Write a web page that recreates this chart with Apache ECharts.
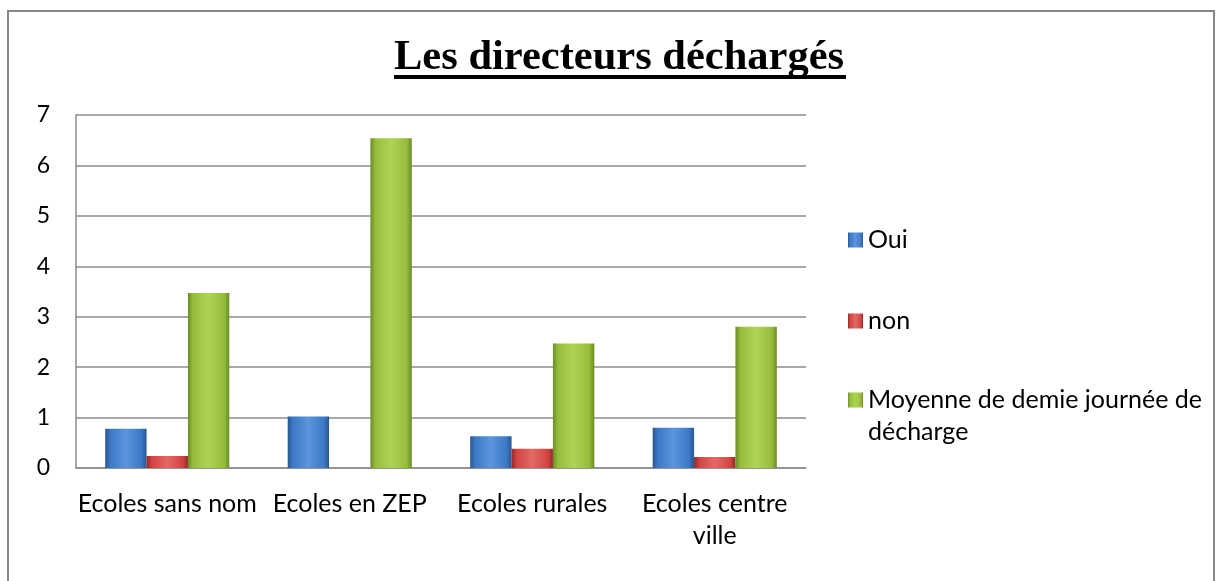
<!DOCTYPE html>
<html>
<head>
<meta charset="utf-8">
<script src="https://cdn.jsdelivr.net/npm/echarts@6/dist/echarts.min.js"></script>
<style>
    html, body { margin: 0; padding: 0; background: #fff; }
    #chart { width: 1221px; height: 581px; }
</style>
</head>
<body>
<div id="chart"></div>
<script>
const categories = ['Ecoles sans nom', 'Ecoles en ZEP', 'Ecoles rurales', 'Ecoles centre ville']
const oui = [0.78, 1.02, 0.63, 0.8]
const non = [0.24, 0, 0.38, 0.22]
const moyenne = [3.47, 6.54, 2.47, 2.8]
const yTicks = [0, 1, 2, 3, 4, 5, 6, 7]

const labelFont = 'Lato'

// excel-ish bevel: dark edges, lighter middle
function bevel(dark, mid, light) {
    return new echarts.graphic.LinearGradient(0, 0, 1, 0, [
        { offset: 0, color: dark },
        { offset: 0.12, color: mid },
        { offset: 0.5, color: light },
        { offset: 0.88, color: mid },
        { offset: 1, color: dark }
    ])
}

function makeSeries(name, data, colors) {
    return {
        name: name,
        type: 'bar',
        barGap: '0%',
        barCategoryGap: '32%',
        itemStyle: {
            color: bevel(colors[0], colors[1], colors[2]),
            borderWidth: 0
        },
        data: data
    }
}

function legendBox(name, top, fmt) {
    return {
        data: [name],
        orient: 'vertical',
        left: 848,
        top: top,
        padding: 0,
        icon: 'rect',
        itemWidth: 15,
        itemHeight: 15,
        selectedMode: false,
        formatter: fmt,
        textStyle: { fontFamily: labelFont, fontSize: 25, color: '#000', lineHeight: 32 }
    }
}

let chart = echarts.init(document.getElementById('chart'), null, { renderer: 'canvas' })

chart.setOption({
    animation: false,
    backgroundColor: '#fff',
    title: {
        text: 'Les directeurs déchargés',
        left: 394,
        top: 37,
        padding: 0,
        textStyle: {
            fontFamily: 'Liberation Serif',
            fontWeight: 'bold',
            fontSize: 42.5,
            lineHeight: 42,
            color: '#000'
        }
    },
    graphic: [
        {
            type: 'rect',
            shape: { x: 8, y: 11, width: 1206, height: 620 },
            style: { fill: 'none', stroke: '#878787', lineWidth: 2 },
            silent: true
        },
        {
            type: 'rect',
            shape: { x: 394, y: 75, width: 452, height: 4 },
            style: { fill: '#000' },
            silent: true
        }
    ],
    legend: [
        legendBox('Oui', 224),
        legendBox('non', 305),
        legendBox('Moyenne de demie journée de décharge', 352, function(name) {
            return '\n' + name.replace(' décharge', '\ndécharge')
        })
    ],
    grid: {
        left: 76,
        right: 415,
        top: 115,
        bottom: 113,
        containLabel: false
    },
    xAxis: {
        type: 'category',
        data: categories,
        axisLine: { show: true, lineStyle: { color: '#8c8c8c', width: 1.5 } },
        axisTick: { show: false },
        axisLabel: {
            interval: 0,
            margin: 20,
            fontFamily: labelFont,
            fontSize: 25,
            lineHeight: 32,
            color: '#000',
            formatter: function(value) {
                return value.replace('centre ville', 'centre\nville')
            }
        }
    },
    yAxis: {
        type: 'value',
        min: yTicks[0],
        max: yTicks[yTicks.length - 1],
        interval: 1,
        axisLine: { show: true, lineStyle: { color: '#8c8c8c', width: 1.5 } },
        axisTick: { show: false },
        splitLine: { lineStyle: { color: '#8c8c8c', width: 1.5 } },
        axisLabel: {
            margin: 26,
            fontFamily: labelFont,
            fontSize: 23,
            color: '#000'
        }
    },
    series: [
        makeSeries('Oui', oui, ['#2a5590', '#3b78c6', '#5b95dc']),
        makeSeries('non', non, ['#8f2a28', '#cf4441', '#e36a66']),
        makeSeries('Moyenne de demie journée de décharge', moyenne, ['#6a8a24', '#95bd3a', '#aed456'])
    ]
})
</script>
</body>
</html>
